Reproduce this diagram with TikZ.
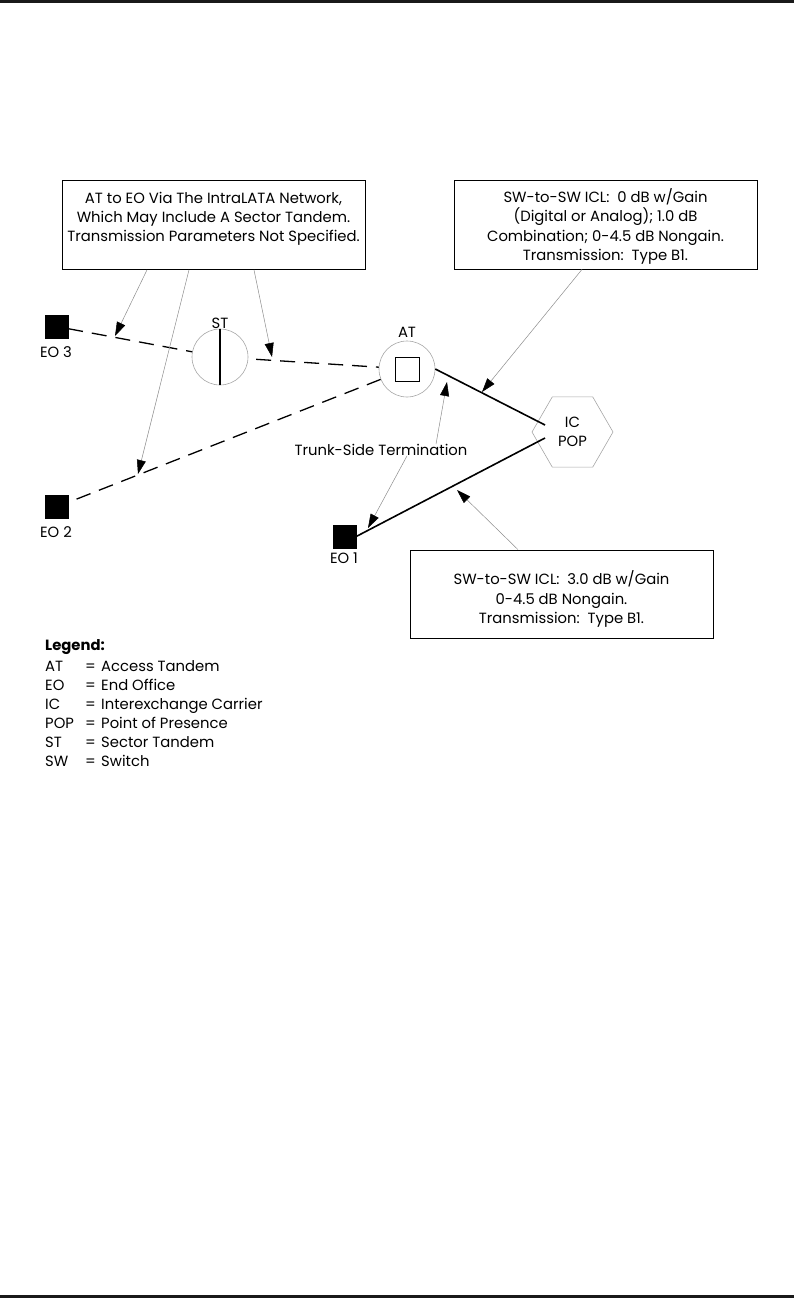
\documentclass[tikz,border=0pt]{standalone}
\usepackage{fontspec}
\setmainfont{Poppins}
\usetikzlibrary{arrows.meta,shapes.geometric}
\begin{document}
\begin{tikzpicture}[x=1pt,y=-1pt,
  every node/.style={font=\fontsize{14.8}{19.2}\selectfont, inner sep=0pt},
  eosq/.style={draw=black, fill=black, minimum size=23pt},
  swc/.style={circle, draw=black!35, line width=0.6pt, minimum size=56pt},
  hexa/.style={regular polygon, regular polygon sides=6, draw=black!35, line width=0.6pt, minimum size=81pt},
  trunk/.style={line width=1.3pt, dash pattern=on 15pt off 9pt},
  icl/.style={line width=1.6pt},
  callout/.style={draw=black, line width=0.8pt},
  ctext/.style={align=center},
  ptr/.style={draw=black!45, line width=0.5pt, -{Triangle[length=14pt,width=9pt,color=black]}},
  rule/.style={fill=black!90, draw=none}
]
\useasboundingbox (0,0) rectangle (794,1298);
\fill[rule] (0,0) rectangle (794,3);
\fill[rule] (0,1295) rectangle (794,1298);

% callout boxes
\node[callout, minimum width=303pt, minimum height=89pt] (box1) at (213.5,225) {};
\node[ctext] (box1t) at (213.5,218.5)
  {AT to EO Via The IntraLATA Network,\\Which May Include A Sector Tandem.\\Transmission Parameters Not Specified.};
\node[callout, minimum width=303pt, minimum height=89pt] (box2) at (605.5,224.5) {};
\node[ctext] (box2t) at (605.5,226.5)
  {SW-to-SW ICL:\ \ 0 dB w/Gain\\(Digital or Analog); 1.0 dB\\Combination; 0-4.5 dB Nongain.\\Transmission:\ \ Type B1.};
\node[callout, minimum width=303pt, minimum height=88pt] (box3) at (561.5,594) {};
\node[ctext] (box3t) at (561.5,599)
  {SW-to-SW ICL:\ \ 3.0 dB w/Gain\\0-4.5 dB Nongain.\\Transmission:\ \ Type B1.};

% end offices
\node[eosq] (eo3) at (56.5,326.5) {};
\node (eo3l) at (56,352) {EO 3};
\node[eosq] (eo2) at (56.5,507) {};
\node (eo2l) at (56,532) {EO 2};
\node[eosq] (eo1) at (344.5,536.5) {};
\node (eo1l) at (344,558) {EO 1};

% tandems
\node[swc] (st) at (220,357) {};
\draw[line width=1.5pt] (st.north) -- (st.south);
\node (stl) at (220,323) {ST};
\node[swc] (at) at (407,369) {};
\node[draw=black, line width=0.7pt, minimum size=24pt] (atsq) at (407,369.5) {};
\node (atl) at (407,332) {AT};

% IC POP
\node[hexa, align=center] (ic) at (572.5,432) {IC\\POP};
\coordinate (icin1) at (545,425);
\coordinate (icin2) at (545,438);

% trunks
\draw[trunk] (eo3) -- (st);
\draw[trunk, shorten <=8pt] (st) -- (at);
\draw[trunk, shorten <=9pt] (eo2) -- (at);
\draw[icl] (at.east) -- (icin1);
\draw[icl] (eo1.east) -- (icin2);

% pointer tips
\coordinate (t1) at (115,336);
\coordinate (t2) at (138,474);
\coordinate (t3) at (272,357);
\coordinate (t4) at (482,392);
\coordinate (t5) at (457,490);
\coordinate (t6) at (447,382);
\coordinate (t7) at (368,528);

\draw[ptr] (box1.south -| 147,0) -- (t1);
\draw[ptr] (box1.south -| 189,0) -- (t2);
\draw[ptr] (box1.south -| 254,0) -- (t3);
\draw[ptr] (box2.south -| 582,0) -- (t4);
\draw[ptr] (box3.north -| 518,0) -- (t5);

\node (ts) at (381,450) {Trunk-Side Termination};
\draw[ptr] (ts.north -| 436,0) -- (t6);
\draw[ptr] (ts.south -| 407,0) -- (t7);

% legend
\node[anchor=base west, font=\fontsize{14.8}{19.2}\selectfont\bfseries] (lg) at (45,650) {Legend:};
\foreach \ab/\mean/\yy [count=\i] in {AT/Access Tandem/671, EO/End Office/690, IC/Interexchange Carrier/709, POP/Point of Presence/728, ST/Sector Tandem/747, SW/Switch/766}{
  \node[anchor=base west] (la\i) at (45,\yy) {\ab};
  \node[anchor=base west] (le\i) at (85,\yy) {=};
  \node[anchor=base west] (lm\i) at (101,\yy) {\mean};
}
\end{tikzpicture}
\end{document}
